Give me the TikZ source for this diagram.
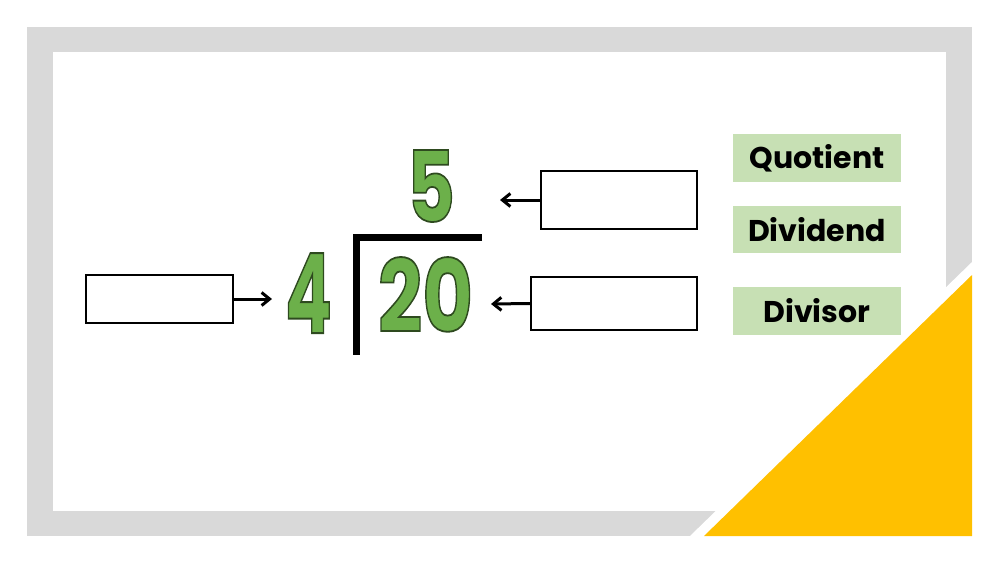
\documentclass[tikz,border=0pt]{standalone}
\usepackage{fontspec}
\setmainfont{Poppins}
\usetikzlibrary{arrows.meta}
\definecolor{framegray}{RGB}{217,217,217}
\definecolor{gold}{RGB}{255,192,0}
\definecolor{digitgreen}{RGB}{108,176,74}
\definecolor{labelgreen}{RGB}{199,224,180}
\newcommand{\outlinedtext}[1]{{\color{digitgreen}\special{pdf:literal direct 0.18 0.29 0.12 RG 1.8 w 2 Tr}#1\special{pdf:literal direct 0 Tr}}}
\newcommand{\digitbox}[3]{\resizebox{#1pt}{#2pt}{\bfseries\fontsize{100}{100}\selectfont\outlinedtext{#3}}}
\tikzset{
  blank/.style={draw=black, line width=2pt, fill=white, inner sep=0pt},
  label/.style={fill=labelgreen, inner sep=0pt, minimum width=168pt, font=\bfseries\fontsize{30}{32}\selectfont, text=black},
  digit/.style={inner sep=0pt},
  arr/.style={draw=black, line width=3pt, -{Straight Barb[length=8pt,width=13pt,line width=3pt]}}
}
\begin{document}
\begin{tikzpicture}[x=1pt,y=-1pt]
\useasboundingbox (0,0) rectangle (1000,562);
\fill[white] (0,0) rectangle (1000,562);
\fill[framegray] (27,27) rectangle (972,536);
\fill[white] (53,52) rectangle (946,511);
\fill[white] (690,536) -- (972,262) -- (972,536) -- cycle;
\fill[gold] (704,536) -- (972,275) -- (972,536) -- cycle;

% answer boxes
\node[blank, minimum width=147pt, minimum height=48pt] (bleft) at (159.5,299) {};
\node[blank, minimum width=156pt, minimum height=58pt] (bquot) at (619,200) {};
\node[blank, minimum width=166pt, minimum height=53pt] (bdiv) at (614,303.5) {};
\coordinate (a1) at (272,299);
\coordinate (a2) at (500,200);
\coordinate (a3) at (491,304);
\draw[arr] (bleft.east) -- (a1);
\draw[arr] (bquot.west) -- (a2);
\draw[arr] (bdiv.west) -- (a3);

% labels
\node[label, minimum height=48pt] (lq) at (817,158) {Quotient};
\node[label, minimum height=47pt] (ld) at (817,229.5) {Dividend};
\node[label, minimum height=48pt] (lv) at (817,311) {Divisor};

% digits
\draw[line width=7pt, line join=miter] (482,237) -- (356,237) -- (356,355);
\node[digit] (five) at (431,186) {\digitbox{48}{72}{5}};
\node[digit] (four) at (308.5,293) {\digitbox{47}{80}{4}};
\node[digit] (twenty) at (425.5,294.5) {\digitbox{95}{75}{20}};
\end{tikzpicture}
\end{document}
